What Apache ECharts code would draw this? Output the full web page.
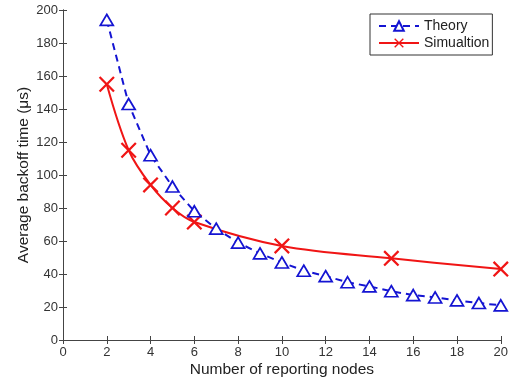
<!DOCTYPE html>
<html>
<head>
<meta charset="utf-8">
<script src="https://cdn.jsdelivr.net/npm/echarts@6/dist/echarts.min.js"></script>
<style>html,body{margin:0;padding:0;background:#fff}#c{width:511px;height:383px}</style>
</head>
<body>
<div id="c"></div>
<script>
var theoryX = [2,3,4,5,6,7,8,9,10,11,12,13,14,15,16,17,18,19,20];
var theoryY = [194,143,112,93,78,67.5,59,52.5,47,42,38.7,35,32.5,29.6,27.2,25.8,24,22.4,21];
var simX = [2,3,4,5,6,10,15,20];
var simY = [155,115,94,80,71.5,57,49.5,43];
var xTicks = [0,20,2];
var yTicks = [0,200,20];
var seriesNames = ['Theory','Simualtion'];

var blue = '#1414d2', red = '#f01515';
var xMark = 'path://M0,1L1,0L5,4L9,0L10,1L6,5L10,9L9,10L5,6L1,10L0,9L4,5Z';
function pairs(xs, ys){ return xs.map(function(x,i){return [x, ys[i]];}); }

var font = 'Liberation Sans, Arial, sans-serif';
var axisCommon = {
  axisLine:{show:true,lineStyle:{color:'#444',width:1}},
  axisTick:{show:true,inside:true,length:4,lineStyle:{color:'#444'}},
  splitLine:{show:false}
};
var chart = echarts.init(document.getElementById('c'), null, {renderer:'canvas'});
chart.setOption({
  animation:false,
  backgroundColor:'#fff',
  grid:{left:63,right:10,top:10,bottom:42,containLabel:false},
  legend:{
    left:370, top:14, orient:'vertical', itemWidth:40, itemHeight:12, itemGap:3,
    padding:[5,3,5,8],
    borderColor:'#333', borderWidth:1, backgroundColor:'#fff',
    textStyle:{fontFamily:font,fontSize:14,color:'#222'},
    data:seriesNames
  },
  xAxis:[
    Object.assign({type:'value',min:xTicks[0],max:xTicks[1],interval:xTicks[2],position:'bottom',
      name:'Number of reporting nodes',nameLocation:'middle',nameGap:22,nameMoveOverlap:false,
      nameTextStyle:{fontFamily:font,fontSize:15.5,color:'#222'},
      axisLabel:{fontFamily:font,fontSize:13,color:'#333',margin:6}}, axisCommon),
    Object.assign({type:'value',min:xTicks[0],max:xTicks[1],interval:xTicks[2],position:'top',
      axisLabel:{show:false}}, axisCommon)
  ],
  yAxis:[
    Object.assign({type:'value',min:yTicks[0],max:yTicks[1],interval:yTicks[2],position:'left',
      name:'Average backoff time (μs)',nameLocation:'middle',nameGap:31,nameMoveOverlap:false,
      nameTextStyle:{fontFamily:font,fontSize:15.5,color:'#222'},
      axisLabel:{fontFamily:font,fontSize:13,color:'#333',margin:5}}, axisCommon),
    Object.assign({type:'value',min:yTicks[0],max:yTicks[1],interval:yTicks[2],position:'right',
      axisLabel:{show:false}}, axisCommon)
  ],
  series:[
    {name:seriesNames[0],type:'line',data:pairs(theoryX,theoryY),
      symbol:'triangle',symbolSize:[13,11],showAllSymbol:true,
      lineStyle:{color:blue,width:2,type:[7,5]},
      itemStyle:{color:'#fff',borderColor:blue,borderWidth:1.7},z:3},
    {name:seriesNames[1],type:'line',data:pairs(simX,simY),smooth:0.35,
      symbol:xMark,symbolSize:16,showAllSymbol:true,
      lineStyle:{color:red,width:2},
      itemStyle:{color:red},z:2}
  ]
});
</script>
</body>
</html>
